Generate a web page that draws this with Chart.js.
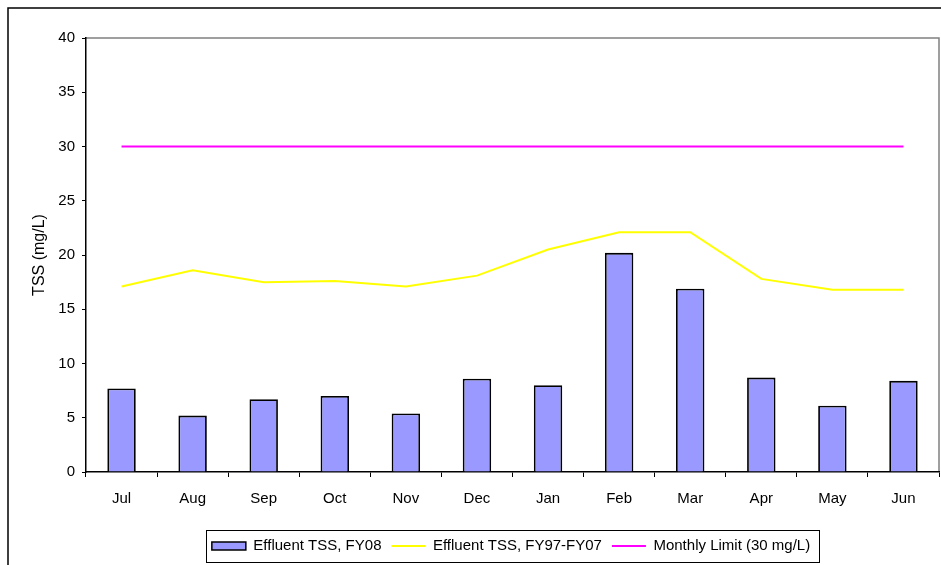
<!DOCTYPE html>
<html>
<head>
<meta charset="utf-8">
<script src="https://cdn.jsdelivr.net/npm/chart.js@4/dist/chart.umd.min.js"></script>
<style>
  html, body { margin: 0; padding: 0; background: #fff; }
  #wrap { position: relative; width: 941px; height: 565px; }
</style>
</head>
<body>
<div id="wrap"><canvas id="c" width="941" height="565"></canvas></div>
<script>
const categories = ['Jul','Aug','Sep','Oct','Nov','Dec','Jan','Feb','Mar','Apr','May','Jun'];
const effluentFY08 = [7.7, 5.2, 6.7, 7.0, 5.4, 8.6, 8.0, 20.2, 16.9, 8.7, 6.1, 8.4];
const effluentFY97FY07 = [17.1, 18.6, 17.5, 17.6, 17.1, 18.1, 20.5, 22.1, 22.1, 17.8, 16.8, 16.8];
const monthlyLimit = [30, 30, 30, 30, 30, 30, 30, 30, 30, 30, 30, 30];
const yTicks = [0, 5, 10, 15, 20, 25, 30, 35, 40];

const FONT = 'Liberation Sans, Arial, sans-serif';

const framePlugin = {
  id: 'framePlugin',
  beforeDraw(chart) {
    const ctx = chart.ctx;
    ctx.save();
    ctx.fillStyle = '#fff';
    ctx.fillRect(0, 0, chart.width, chart.height);
    ctx.strokeStyle = '#000';
    ctx.lineWidth = 1.5;
    ctx.beginPath();
    ctx.moveTo(8, chart.height + 5);
    ctx.lineTo(8, 8);
    ctx.lineTo(chart.width + 5, 8);
    ctx.stroke();
    const a = chart.chartArea;
    ctx.strokeStyle = '#808080';
    ctx.lineWidth = 1.5;
    ctx.beginPath();
    ctx.moveTo(a.left, a.top);
    ctx.lineTo(a.right, a.top);
    ctx.lineTo(a.right, a.bottom);
    ctx.stroke();
    ctx.restore();
  },
  afterLayout(chart) {
    const lg = chart.legend;
    if (!lg) return;
    const shift = 511 - (lg.left + lg.right) / 2;
    lg.left += shift;
    lg.right += shift;
  },
  afterDraw(chart) {
    const lg = chart.legend;
    if (!lg || !lg.legendHitBoxes || !lg.legendHitBoxes.length) return;
    const hb = lg.legendHitBoxes;
    const first = hb[0], last = hb[hb.length - 1];
    const x0 = first.left - 6;
    const x1 = last.left + last.width + 9;
    const cy = first.top + first.height / 2;
    const ctx = chart.ctx;
    ctx.save();
    ctx.strokeStyle = '#000';
    ctx.lineWidth = 1;
    ctx.strokeRect(Math.round(x0) + 0.5, Math.round(cy - 16) + 0.5, Math.round(x1 - x0), 32);
    ctx.restore();
  }
};

new Chart(document.getElementById('c'), {
  data: {
    labels: categories,
    datasets: [
      {
        type: 'bar',
        label: 'Effluent TSS, FY08',
        data: effluentFY08,
        backgroundColor: '#9999FF',
        borderColor: '#000000',
        borderWidth: 1.8,
        order: 3,
        categoryPercentage: 0.8,
        barPercentage: 0.5
      },
      {
        type: 'line',
        label: 'Effluent TSS, FY97-FY07',
        data: effluentFY97FY07,
        borderColor: '#FFFF00',
        backgroundColor: '#FFFF00',
        borderWidth: 2,
        pointRadius: 0,
        tension: 0,
        fill: false,
        order: 2
      },
      {
        type: 'line',
        label: 'Monthly Limit (30 mg/L)',
        data: monthlyLimit,
        borderColor: '#FF00FF',
        backgroundColor: '#FF00FF',
        borderWidth: 2,
        pointRadius: 0,
        tension: 0,
        fill: false,
        order: 1
      }
    ]
  },
  options: {
    responsive: false,
    animation: false,
    devicePixelRatio: 1,
    layout: { padding: { left: 10, top: 38, right: 2, bottom: 1.5 } },
    plugins: {
      tooltip: { enabled: false },
      legend: {
        position: 'bottom',
        labels: {
          color: '#000',
          font: { family: FONT, size: 15 },
          usePointStyle: true,
          pointStyleWidth: 34,
          boxHeight: 8,
          padding: 10,
          generateLabels(chart) {
            return chart.data.datasets.map((ds, i) => ({
              text: ds.label,
              fillStyle: ds.backgroundColor,
              strokeStyle: ds.type === 'bar' ? '#000' : ds.borderColor,
              lineWidth: ds.type === 'bar' ? 1.5 : 2,
              pointStyle: ds.type === 'bar' ? 'rect' : 'line',
              hidden: false,
              datasetIndex: i,
              fontColor: '#000'
            }));
          }
        }
      }
    },
    scales: {
      x: {
        type: 'category',
        offset: true,
        grid: {
          offset: true,
          drawOnChartArea: false,
          drawTicks: true,
          tickLength: 5,
          tickColor: '#000',
          tickWidth: 1
        },
        border: { display: true, color: '#000', width: 1.5 },
        ticks: {
          color: '#000',
          font: { family: FONT, size: 15 },
          padding: 13,
          maxRotation: 0,
          autoSkip: false
        },
        afterFit(scale) { scale.height = 56.5; }
      },
      y: {
        type: 'linear',
        min: 0,
        max: 40,
        afterBuildTicks(scale) { scale.ticks = yTicks.map(v => ({ value: v })); },
        grid: {
          drawOnChartArea: false,
          drawTicks: true,
          tickLength: 4,
          tickColor: '#000',
          tickWidth: 1
        },
        border: { display: true, color: '#000', width: 1.5 },
        ticks: {
          color: '#000',
          font: { family: FONT, size: 15 },
          padding: 7
        },
        title: {
          display: true,
          text: 'TSS (mg/L)',
          color: '#000',
          font: { family: FONT, size: 16 },
          padding: { top: 20, bottom: 0 }
        },
        afterFit(scale) { scale.width = 76; }
      }
    }
  },
  plugins: [framePlugin]
});
</script>
</body>
</html>
